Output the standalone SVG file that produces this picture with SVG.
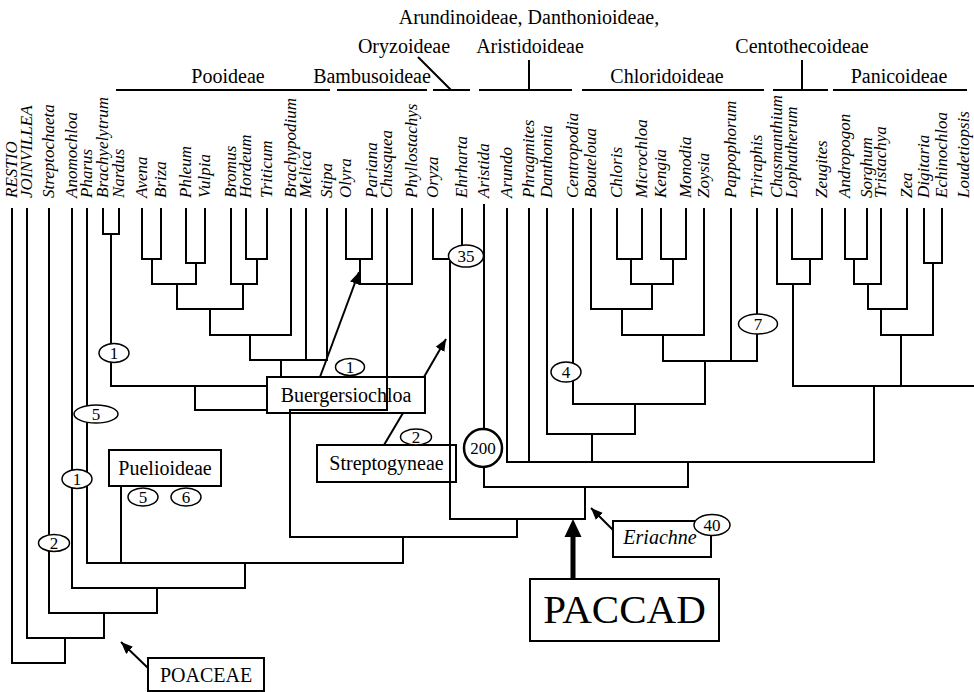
<svg xmlns="http://www.w3.org/2000/svg" width="974" height="692" viewBox="0 0 974 692">
<defs>
  <marker id="arrow" viewBox="0 0 12 10" refX="12" refY="5" markerWidth="12" markerHeight="10" markerUnits="userSpaceOnUse" orient="auto">
    <path d="M0,0 L12,5 L0,10 z" fill="#000"/>
  </marker>
</defs>
<style>
  text { font-family: "Liberation Serif", "Times New Roman", serif; fill: #000; }
  .taxon { font-size: 17px; font-style: italic; }
  .sub { font-size: 20px; text-anchor: middle; }
  .box { fill: #fff; stroke: #000; stroke-width: 2; }
  .boxtext { font-size: 20px; text-anchor: middle; }
  .tree { fill: none; stroke: #000; stroke-width: 2; stroke-linecap: square; }
  .rule { fill: none; stroke: #000; stroke-width: 2; }
  .oval { fill: #fff; stroke: #000; stroke-width: 1.5; }
  .num { font-size: 17px; text-anchor: middle; }
  .arrow { fill: none; stroke: #000; stroke-width: 2; marker-end: url(#arrow); }
</style>
<rect width="974" height="692" fill="#fff"/>

<!-- subfamily headings -->
<g id="headings">
  <text class="sub" x="529" y="24">Arundinoideae, Danthonioideae,</text>
  <text class="sub" x="404" y="53">Oryzoideae</text>
  <text class="sub" x="530" y="53">Aristidoideae</text>
  <text class="sub" x="802" y="53">Centothecoideae</text>
  <text class="sub" x="228" y="83">Pooideae</text>
  <text class="sub" x="372" y="83">Bambusoideae</text>
  <text class="sub" x="667" y="83">Chloridoideae</text>
  <text class="sub" x="899" y="83">Panicoideae</text>
  <path class="rule" d="M116,90 H330 M337,90 H427 M433,90 H470 M479,90 H572 M582,90 H764 M773,90 H828 M833,90 H967"/>
  <path class="rule" d="M418,57 L451,90 M529,60 V90 M802,60 V90"/>
</g>

<!-- terminal taxa -->
<g id="taxa">
  <text class="taxon" transform="translate(17,198) rotate(-90)">RESTIO</text>
  <text class="taxon" transform="translate(32,198) rotate(-90)">JOINVILLEA</text>
  <text class="taxon" transform="translate(54,198) rotate(-90)">Streptochaeta</text>
  <text class="taxon" transform="translate(77,198) rotate(-90)">Anomochloa</text>
  <text class="taxon" transform="translate(92,198) rotate(-90)">Pharus</text>
  <text class="taxon" transform="translate(108,198) rotate(-90)">Brachyelytrum</text>
  <text class="taxon" transform="translate(124,198) rotate(-90)">Nardus</text>
  <text class="taxon" transform="translate(147,198) rotate(-90)">Avena</text>
  <text class="taxon" transform="translate(166,198) rotate(-90)">Briza</text>
  <text class="taxon" transform="translate(191,198) rotate(-90)">Phleum</text>
  <text class="taxon" transform="translate(210,198) rotate(-90)">Vulpia</text>
  <text class="taxon" transform="translate(236,198) rotate(-90)">Bromus</text>
  <text class="taxon" transform="translate(251,198) rotate(-90)">Hordeum</text>
  <text class="taxon" transform="translate(272,198) rotate(-90)">Triticum</text>
  <text class="taxon" transform="translate(296,198) rotate(-90)">Brachypodium</text>
  <text class="taxon" transform="translate(311,198) rotate(-90)">Melica</text>
  <text class="taxon" transform="translate(332,198) rotate(-90)">Stipa</text>
  <text class="taxon" transform="translate(351,198) rotate(-90)">Olyra</text>
  <text class="taxon" transform="translate(377,198) rotate(-90)">Pariana</text>
  <text class="taxon" transform="translate(392,198) rotate(-90)">Chusquea</text>
  <text class="taxon" transform="translate(417,198) rotate(-90)">Phyllostachys</text>
  <text class="taxon" transform="translate(438,198) rotate(-90)">Oryza</text>
  <text class="taxon" transform="translate(467,198) rotate(-90)">Ehrharta</text>
  <text class="taxon" transform="translate(489,198) rotate(-90)">Aristida</text>
  <text class="taxon" transform="translate(512,198) rotate(-90)">Arundo</text>
  <text class="taxon" transform="translate(534,198) rotate(-90)">Phragmites</text>
  <text class="taxon" transform="translate(552,198) rotate(-90)">Danthonia</text>
  <text class="taxon" transform="translate(578,198) rotate(-90)">Centropodia</text>
  <text class="taxon" transform="translate(596,198) rotate(-90)">Bouteloua</text>
  <text class="taxon" transform="translate(622,198) rotate(-90)">Chloris</text>
  <text class="taxon" transform="translate(647,198) rotate(-90)">Microchloa</text>
  <text class="taxon" transform="translate(666,198) rotate(-90)">Kengia</text>
  <text class="taxon" transform="translate(691,198) rotate(-90)">Monodia</text>
  <text class="taxon" transform="translate(709,198) rotate(-90)">Zoysia</text>
  <text class="taxon" transform="translate(736,198) rotate(-90)">Pappophorum</text>
  <text class="taxon" transform="translate(762,198) rotate(-90)">Triraphis</text>
  <text class="taxon" transform="translate(782,198) rotate(-90)">Chasmanthium</text>
  <text class="taxon" transform="translate(797,198) rotate(-90)">Lophatherum</text>
  <text class="taxon" transform="translate(827,198) rotate(-90)">Zeugites</text>
  <text class="taxon" transform="translate(850,198) rotate(-90)">Andropogon</text>
  <text class="taxon" transform="translate(872,198) rotate(-90)">Sorghum</text>
  <text class="taxon" transform="translate(886,198) rotate(-90)">Tristachya</text>
  <text class="taxon" transform="translate(912,198) rotate(-90)">Zea</text>
  <text class="taxon" transform="translate(929,198) rotate(-90)">Digitaria</text>
  <text class="taxon" transform="translate(947,198) rotate(-90)">Echinochloa</text>
  <text class="taxon" transform="translate(969,198) rotate(-90)">Loudetiopsis</text>
</g>

<!-- labelled boxes -->
<g id="node-buergersiochloa">
  <rect class="box" x="267" y="377" width="158" height="36"/>
  <text class="boxtext" x="346" y="402">Buergersiochloa</text>
</g>
<g id="node-streptogyneae">
  <rect class="box" x="317" y="445" width="139" height="37"/>
  <text class="boxtext" x="386.5" y="470">Streptogyneae</text>
</g>
<g id="node-puelioideae">
  <rect class="box" x="109" y="450" width="112" height="36"/>
  <text class="boxtext" x="165" y="475">Puelioideae</text>
</g>
<g id="node-eriachne">
  <rect class="box" x="613" y="521" width="98" height="36"/>
  <text class="boxtext" x="660" y="544" font-style="italic">Eriachne</text>
</g>
<g id="node-poaceae">
  <rect class="box" x="148" y="658" width="116" height="33"/>
  <text class="boxtext" x="206" y="682">POACEAE</text>
</g>
<g id="node-paccad">
  <rect class="box" x="530" y="579" width="189" height="62"/>
  <text x="624.5" y="623" font-size="41" text-anchor="middle">PACCAD</text>
</g>

<!-- tree branches -->
<g id="connectors" class="tree">
  <!-- outgroups and early-diverging lineages -->
  <path d="M12,209 V663 H65 V638"/>
  <path d="M27,209 V638 H104 V613"/>
  <path d="M49,209 V613 H157 V588"/>
  <path d="M72,209 V588 H245 V563"/>
  <path d="M87,209 V563 H403 V537"/>
  <path d="M121,486 V563"/>
  <!-- Pooideae -->
  <path d="M103,209 V234 H119 V209 M111,234 V386 H267 M195,386 V410 H267"/>
  <path d="M142,209 V259 H161 V209 M152,259 V284 H196 M186,209 V263 H205 V209 M196,263 V284"/>
  <path d="M177,284 V309 H243 M231,209 V284 H257 M246,209 V259 H267 V209 M257,259 V284 M243,284 V309"/>
  <path d="M210,309 V335 H291 M291,209 V335"/>
  <path d="M250,335 V360 H327 M306,209 V360 M327,209 V360 M281,360 V377"/>
  <!-- Bambusoideae -->
  <path d="M346,209 V259 H372 V209 M360,259 V284 H412 M412,209 V284"/>
  <path d="M387,209 V410 H290 V537 H517 V519"/>
  <!-- Oryzoideae -->
  <path d="M433,209 V259 H450 M462,209 V250 M450,259 V519 H585 V487"/>
  <!-- Aristidoideae, Arundinoideae, Danthonioideae, Chloridoideae -->
  <path d="M484,205 V487 H688 V462"/>
  <path d="M507,209 V462 H874 V386 M529,209 V462"/>
  <path d="M547,209 V434 H635 V404 M592,434 V462"/>
  <path d="M573,209 V404 H705 V361"/>
  <path d="M663,335 V361 H757 V209 M731,209 V361"/>
  <path d="M591,209 V309 H652 V284 M622,309 V335 H704 V209"/>
  <path d="M617,209 V259 H642 V209 M631,259 V284 H673 V259 M661,209 V259 H686 V209"/>
  <!-- Centothecoideae and Panicoideae -->
  <path d="M792,209 V259 H822 V209 M810,259 V284 M777,209 V284 H810 M793,284 V386 H974"/>
  <path d="M845,209 V259 H867 V209 M854,259 V284 H881 V209 M868,284 V309 H907 V209 M881,309 V335 H933 V263 M924,209 V263 H942 V209 M901,335 V386"/>
  <!-- box tie -->
  <path d="M384,445 L403,413" stroke-linecap="butt"/>
</g>

<!-- character-count ovals -->
<g id="ovals">
  <g id="oval-nardus"><ellipse class="oval" cx="114" cy="353" rx="15" ry="9.5"/><text class="num" x="114" y="359">1</text></g>
  <g id="oval-pharus"><ellipse class="oval" cx="96" cy="414" rx="22" ry="9"/><text class="num" x="96" y="420">5</text></g>
  <g id="oval-anomochloa"><ellipse class="oval" cx="77" cy="479" rx="15" ry="9.5"/><text class="num" x="77" y="485">1</text></g>
  <g id="oval-streptochaeta"><ellipse class="oval" cx="54" cy="543" rx="15.5" ry="8.5"/><text class="num" x="54" y="549">2</text></g>
  <g id="oval-puelia-5"><ellipse class="oval" cx="143" cy="497" rx="15" ry="9"/><text class="num" x="143" y="503">5</text></g>
  <g id="oval-puelia-6"><ellipse class="oval" cx="186" cy="497" rx="15" ry="9"/><text class="num" x="186" y="503">6</text></g>
  <g id="oval-buergersiochloa"><ellipse class="oval" cx="350" cy="367" rx="14.5" ry="8.5"/><text class="num" x="350" y="373">1</text></g>
  <g id="oval-streptogyneae"><ellipse class="oval" cx="416" cy="437" rx="15.5" ry="8"/><text class="num" x="416" y="443">2</text></g>
  <g id="oval-ehrharta"><ellipse class="oval" cx="466" cy="256" rx="17.5" ry="11"/><text class="num" x="466" y="262">35</text></g>
  <g id="oval-aristida"><circle cx="483" cy="448" r="19" fill="#fff" stroke="#000" stroke-width="2.5"/><text class="num" x="483" y="454">200</text></g>
  <g id="oval-centropodia"><ellipse class="oval" cx="566" cy="372" rx="15" ry="10"/><text class="num" x="566" y="378">4</text></g>
  <g id="oval-triraphis"><ellipse class="oval" cx="758" cy="324" rx="19.5" ry="10"/><text class="num" x="758" y="330">7</text></g>
  <g id="oval-eriachne"><ellipse class="oval" cx="712" cy="525" rx="18" ry="10.5"/><text class="num" x="712" y="531">40</text></g>
</g>

<!-- pointer arrows -->
<g id="arrows">
  <path class="arrow" d="M320,377 L359,272"/>
  <path class="arrow" d="M424,377 L446,339"/>
  <path class="arrow" d="M613,530 L591,508"/>
  <path class="arrow" d="M148,668 L121,642"/>
  <path d="M573,579 V534" stroke="#000" stroke-width="5" fill="none"/>
  <path d="M564.5,537 L573,519 L581.5,537 z" fill="#000"/>
</g>
</svg>
